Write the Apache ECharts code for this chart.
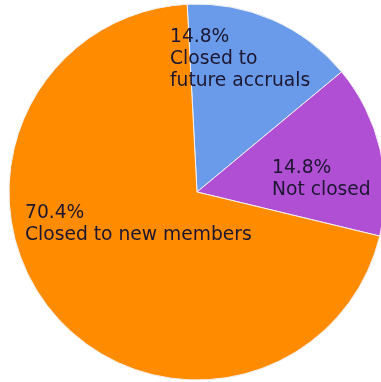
<!DOCTYPE html>
<html>
<head>
<meta charset="utf-8">
<script src="https://cdn.jsdelivr.net/npm/echarts@6/dist/echarts.min.js"></script>
<style>
  html, body { margin: 0; padding: 0; background: #ffffff; }
  #chart { width: 381px; height: 382px; }
</style>
</head>
<body>
<div id="chart"></div>
<script>
// Pension plan status shares (percent)
const categories = ['Closed to\nfuture accruals', 'Not closed', 'Closed to new members'];
const shares = [14.8, 14.8, 70.4];
const sliceColors = ['#6a9bea', '#b04fd4', '#ff8c00'];

// Where each slice's text block sits (left/top of the block)
const labelAnchors = [[170, 26], [272, 157], [25, 202]];

const chart = echarts.init(document.getElementById('chart'), null, { renderer: 'canvas' });

chart.setOption({
  backgroundColor: '#ffffff',
  animation: false,
  series: [{
    type: 'pie',
    center: [197, 192],
    radius: 188,
    startAngle: 93,
    clockwise: true,
    avoidLabelOverlap: false,
    itemStyle: { borderColor: '#f2f2f2', borderWidth: 1 },
    label: {
      show: true,
      position: 'inside',
      color: '#1c1630',
      fontFamily: 'DejaVu Sans',
      fontSize: 18.7,
      lineHeight: 22,
      align: 'left',
      formatter: p => p.value.toFixed(1) + '%\n' + p.name
    },
    labelLine: { show: false },
    labelLayout: p => ({
      x: labelAnchors[p.dataIndex][0],
      y: labelAnchors[p.dataIndex][1],
      align: 'left',
      verticalAlign: 'top'
    }),
    data: categories.map((name, i) => ({
      name,
      value: shares[i],
      itemStyle: { color: sliceColors[i] }
    }))
  }]
});
</script>
</body>
</html>
